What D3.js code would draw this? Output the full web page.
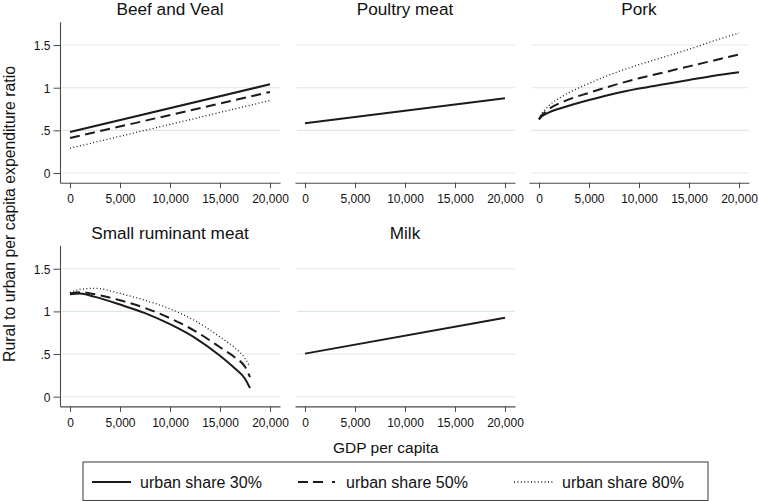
<!DOCTYPE html>
<html><head><meta charset="utf-8">
<script src="https://cdn.jsdelivr.net/npm/d3@7"></script>
<style>
html,body{margin:0;padding:0;background:#fff;}
svg{display:block;font-family:"Liberation Sans",Arial,Helvetica,sans-serif;}
</style></head>
<body>
<svg id="chart" width="759" height="501"></svg>
<script>
// ---- data ----
const panelTitles = ["Beef and Veal", "Poultry meat", "Pork", "Small ruminant meat", "Milk"];
const shareLabels = ["urban share 30%", "urban share 50%", "urban share 80%"];
const xTicks = [0, 5000, 10000, 15000, 20000];
const yTicks = [0, 0.5, 1, 1.5];
const yTickLabels = ["0", ".5", "1", "1.5"];

const gdpLinear = [0, 20000];
const beef30 = [0.48, 1.04];
const beef50 = [0.41, 0.95];
const beef80 = [0.29, 0.85];

const poultryAll = [0.583, 0.876];

const gdpPork = [0, 250, 500, 1000, 2500, 5000, 7500, 10000, 12500, 15000, 17500, 20000];
const pork30 = [0.63, 0.663, 0.68, 0.71, 0.77, 0.855, 0.93, 0.99, 1.04, 1.09, 1.14, 1.18];
const pork50 = [0.63, 0.675, 0.70, 0.75, 0.84, 0.94, 1.03, 1.11, 1.18, 1.25, 1.32, 1.39];
const pork80 = [0.63, 0.694, 0.73, 0.79, 0.91, 1.05, 1.17, 1.27, 1.36, 1.45, 1.55, 1.64];

const gdpSmall = [0, 1000, 2500, 5000, 7500, 10000, 12500, 15000, 16500, 17500, 18000];
const small30 = [1.20, 1.21, 1.17, 1.08, 0.98, 0.85, 0.69, 0.48, 0.33, 0.21, 0.10];
const small50 = [1.21, 1.225, 1.20, 1.13, 1.04, 0.92, 0.77, 0.58, 0.46, 0.35, 0.23];
const small80 = [1.22, 1.26, 1.27, 1.21, 1.13, 1.03, 0.89, 0.70, 0.57, 0.45, 0.35];

const milkAll = [0.505, 0.925];

// ---- build panel table from arrays ----
const panels = [
  {title: panelTitles[0], x: gdpLinear, series: [beef30, beef50, beef80]},
  {title: panelTitles[1], x: gdpLinear, series: [poultryAll]},
  {title: panelTitles[2], x: gdpPork, series: [pork30, pork50, pork80]},
  {title: panelTitles[3], x: gdpSmall, series: [small30, small50, small80]},
  {title: panelTitles[4], x: gdpLinear, series: [milkAll]}
];

// ---- layout ----
const cols = [[60, 280], [295, 515], [529, 749]];
const rows = [[21.7, 182.7], [245.4, 406.4]];
const xDomain = [-1000, 21000];
const yDomain = [-0.1137, 1.7737];

const styles = [
  {dash: null, legendDash: null, width: 2},
  {dash: "10,5.5", legendDash: "10,5,10,9,3,100", width: 2},
  {dash: "1,2.4", legendDash: "1,2.4", width: 1.3}
];
const lineColor = "#1b1b1b";
const gridColor = "#dde7eb";
const axisColor = "#4a4a4a";

const svg = d3.select("#chart");
const fmt = d3.format(",");

panels.forEach((p, i) => {
  const r = Math.floor(i / 3), c = i % 3;
  const [x0, x1] = cols[c];
  const [yTop, yBot] = rows[r];
  const x = d3.scaleLinear().domain(xDomain).range([x0, x1]);
  const y = d3.scaleLinear().domain(yDomain).range([yBot, yTop]);
  const g = svg.append("g");

  // grid
  g.selectAll("line.grid").data(yTicks).enter().append("line")
    .attr("x1", x0 + 2).attr("x2", x1)
    .attr("y1", d => y(d)).attr("y2", d => y(d))
    .attr("stroke", gridColor).attr("stroke-width", 1.1);

  // x axis
  const xa = g.append("g").attr("transform", `translate(0,${yBot})`)
    .call(d3.axisBottom(x).tickValues(xTicks).tickFormat(fmt).tickSize(5.5).tickSizeOuter(0));
  xa.select(".domain").attr("stroke", axisColor).attr("stroke-width", 1.1);
  xa.selectAll(".tick line").attr("stroke", axisColor).attr("stroke-width", 1);
  xa.selectAll(".tick text").attr("font-size", 12).attr("fill", "#111")
    .attr("font-family", "Liberation Sans, Arial, sans-serif").attr("dy", null).attr("y", 20.5);

  // y axis only in first column
  if (c === 0) {
    const ya = g.append("g").attr("transform", `translate(${x0},0)`)
      .call(d3.axisLeft(y).tickValues(yTicks).tickFormat((d, k) => yTickLabels[k]).tickSize(6.5).tickSizeOuter(0));
    ya.select(".domain").attr("stroke", axisColor).attr("stroke-width", 1.1);
    ya.selectAll(".tick line").attr("stroke", axisColor).attr("stroke-width", 1);
    ya.selectAll(".tick text").attr("font-size", 12).attr("fill", "#111")
      .attr("font-family", "Liberation Sans, Arial, sans-serif").attr("x", -9.5).attr("dy", "0.36em");
  }

  // title
  g.append("text").attr("x", (x0 + x1) / 2).attr("y", yTop - 6.5)
    .attr("text-anchor", "middle").attr("font-size", 17.2).attr("fill", "#111").text(p.title);

  // lines (draw dotted first, solid on top)
  const line = d3.line().curve(d3.curveMonotoneX);
  for (let s = p.series.length - 1; s >= 0; s--) {
    const pts = p.x.map((xv, k) => [x(xv), y(p.series[s][k])]);
    const st = styles[s];
    g.append("path").attr("d", line(pts)).attr("fill", "none")
      .attr("stroke", lineColor).attr("stroke-width", st.width)
      .attr("stroke-dasharray", st.dash).attr("stroke-linecap", "butt");
  }
});

// axis titles
svg.append("text").attr("x", 333).attr("y", 453).attr("font-size", 15.5).attr("fill", "#111")
  .text("GDP per capita");
svg.append("text").attr("transform", "translate(14.5,214) rotate(-90)")
  .attr("text-anchor", "middle").attr("font-size", 15.8).attr("fill", "#111")
  .text("Rural to urban per capita expenditure ratio");

// legend
const legX = [92, 298, 514];
svg.append("rect").attr("x", 83).attr("y", 462).attr("width", 625).attr("height", 38.5)
  .attr("fill", "#fff").attr("stroke", axisColor).attr("stroke-width", 1.1);
shareLabels.forEach((lab, k) => {
  const st = styles[k];
  svg.append("line").attr("x1", legX[k]).attr("x2", legX[k] + 39).attr("y1", 482).attr("y2", 482)
    .attr("stroke", lineColor).attr("stroke-width", st.width).attr("stroke-dasharray", st.legendDash);
  svg.append("text").attr("x", legX[k] + 48).attr("y", 488).attr("font-size", 16).attr("fill", "#111").text(lab);
});
</script>
</body></html>
